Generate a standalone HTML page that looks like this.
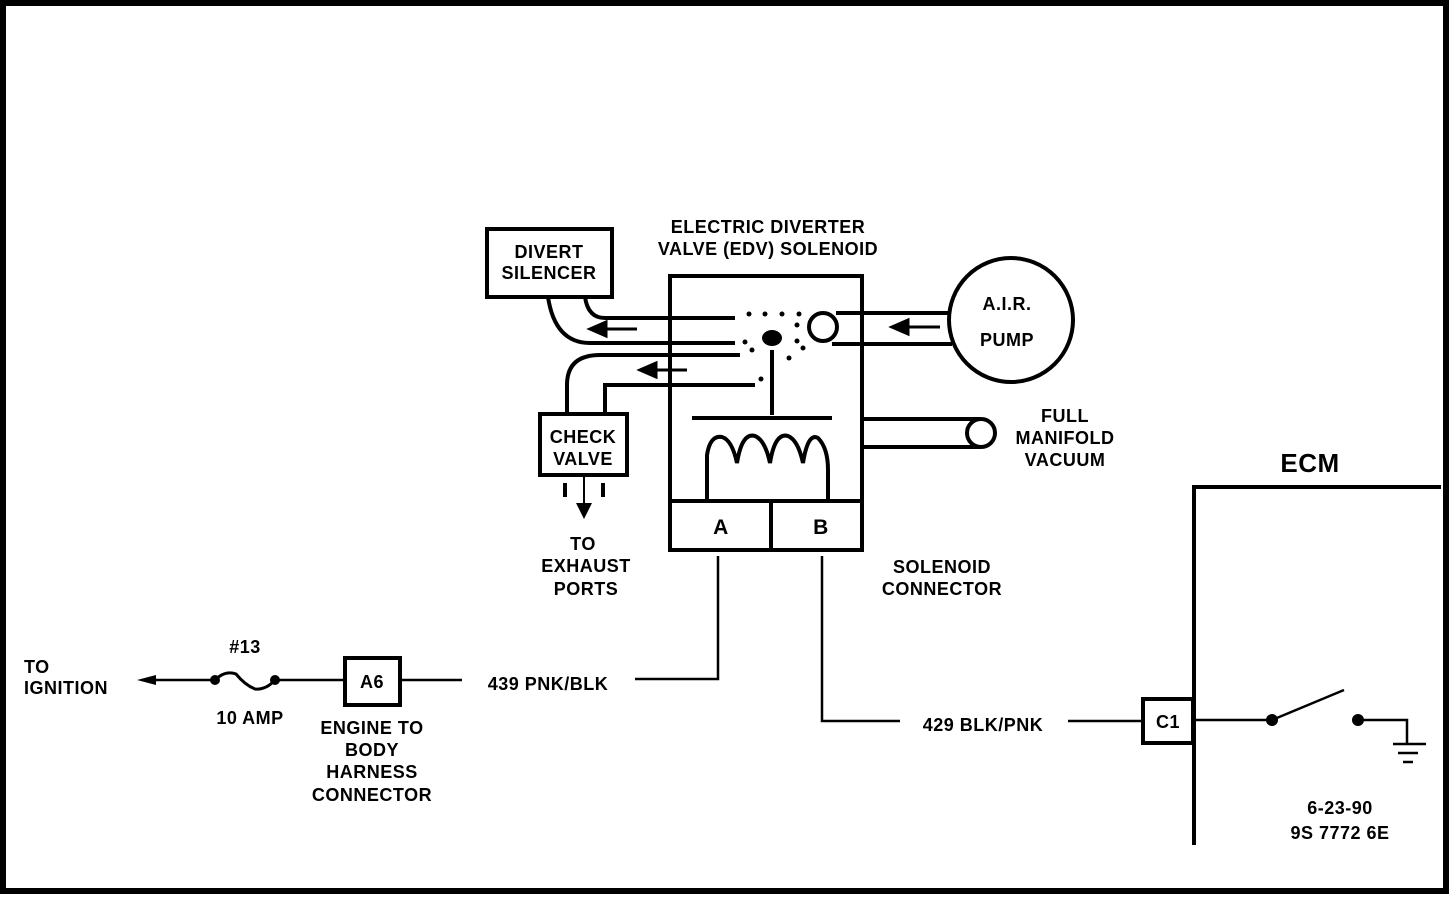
<!DOCTYPE html>
<html><head><meta charset="utf-8"><style>
html,body{margin:0;padding:0;background:#fff;}
svg{display:block;}
text{font-family:"Liberation Sans",sans-serif;font-weight:bold;font-size:18px;fill:#000;text-anchor:middle;letter-spacing:0.5px;}
</style></head><body>
<svg width="1456" height="898" viewBox="0 0 1456 898" xmlns="http://www.w3.org/2000/svg">
<rect x="0" y="0" width="1456" height="898" fill="#fff"/>
<rect x="3" y="3" width="1443" height="888" fill="none" stroke="#000" stroke-width="6"/>
<g fill="none" stroke="#000" stroke-width="4">
<rect x="487" y="229" width="125" height="68"/>
<rect x="540" y="414" width="87" height="61"/>
<rect x="670" y="276" width="192" height="274"/>
<line x1="670" y1="501" x2="862" y2="501"/>
<line x1="771" y1="501" x2="771" y2="550"/>
<path d="M585 297 Q588 318 605 318 L735 318"/>
<path d="M548 297 Q555 343 590 343 L735 343"/>
<path d="M567 414 L567 385 Q567 355 600 355 L740 355"/>
<path d="M605 414 L605 385 L755 385"/>
<circle cx="1011" cy="320" r="62"/>
<line x1="836" y1="313" x2="950" y2="313"/>
<line x1="832" y1="344" x2="952" y2="344"/>
<circle cx="823" cy="327" r="14"/>
<line x1="862" y1="419" x2="980" y2="419"/>
<line x1="862" y1="447" x2="980" y2="447"/>
<circle cx="981" cy="433" r="14"/>
<line x1="772" y1="350" x2="772" y2="415"/>
<line x1="692" y1="418" x2="832" y2="418"/>
<path d="M707 501 L707 455 Q710 435 722 437 Q732 440 737 463 Q742 432 755 436 Q765 440 770 463 Q775 432 788 436 Q798 440 803 463 Q808 432 818 438 Q828 448 828 470 L828 501"/>
<path d="M1194 845 L1194 487 L1441 487"/>
<rect x="1143" y="699" width="50" height="44"/>
<rect x="345" y="658" width="55" height="47"/>
</g>
<g stroke="#000" stroke-width="3" fill="#000">
<line x1="600" y1="329" x2="637" y2="329"/><polygon points="590,329 606,322 606,336"/>
<line x1="650" y1="370" x2="687" y2="370"/><polygon points="640,370 656,363 656,377"/>
<line x1="905" y1="327" x2="940" y2="327"/><polygon points="892,327 908,320 908,334"/>
</g>
<g fill="#000">
<circle cx="749" cy="314" r="2.5"/><circle cx="765" cy="314" r="2.5"/><circle cx="782" cy="314" r="2.5"/><circle cx="799" cy="314" r="2.5"/>
<circle cx="797" cy="325" r="2.5"/><circle cx="745" cy="342" r="2.5"/><circle cx="752" cy="350" r="2.5"/>
<circle cx="797" cy="341" r="2.5"/><circle cx="803" cy="348" r="2.5"/><circle cx="789" cy="358" r="2.5"/><circle cx="761" cy="379" r="2.5"/>
<ellipse cx="772" cy="338" rx="10" ry="8"/>
</g>
<g stroke="#000" stroke-width="4"><line x1="565" y1="483" x2="565" y2="497"/><line x1="603" y1="483" x2="603" y2="497"/></g>
<line x1="584" y1="475" x2="584" y2="505" stroke="#000" stroke-width="2"/>
<polygon points="576,503 592,503 584,519" fill="#000"/>
<g fill="none" stroke="#000" stroke-width="2.5">
<path d="M718 556 L718 679 L635 679"/>
<path d="M822 556 L822 721 L900 721"/>
<line x1="1068" y1="721" x2="1143" y2="721"/>
<line x1="400" y1="680" x2="462" y2="680"/>
<line x1="275" y1="680" x2="345" y2="680"/>
<line x1="148" y1="680" x2="215" y2="680"/>
<path d="M215 680 Q225 670 236 674 Q245 685 255 689 Q266 690 275 680" stroke-width="3"/>
<line x1="1193" y1="720" x2="1272" y2="720"/>
<line x1="1272" y1="720" x2="1344" y2="690"/>
<path d="M1358 720 L1407 720 L1407 744"/>
<line x1="1393" y1="744" x2="1426" y2="744"/>
<line x1="1398" y1="753" x2="1418" y2="753"/>
<line x1="1403" y1="762" x2="1413" y2="762"/>
</g>
<polygon points="137,680 156,675 156,685" fill="#000"/>
<g fill="#000"><circle cx="215" cy="680" r="5"/><circle cx="275" cy="680" r="5"/><circle cx="1272" cy="720" r="6"/><circle cx="1358" cy="720" r="6"/></g>
<text x="768" y="233">ELECTRIC DIVERTER</text>
<text x="768" y="255">VALVE (EDV) SOLENOID</text>
<text x="549" y="258">DIVERT</text>
<text x="549" y="279">SILENCER</text>
<text x="583" y="443">CHECK</text>
<text x="583" y="465">VALVE</text>
<text x="583" y="550">TO</text>
<text x="586" y="572">EXHAUST</text>
<text x="586" y="595">PORTS</text>
<text x="1007" y="310">A.I.R.</text>
<text x="1007" y="346">PUMP</text>
<text x="1065" y="422">FULL</text>
<text x="1065" y="444">MANIFOLD</text>
<text x="1065" y="466">VACUUM</text>
<text x="721" y="534" style="font-size:21px">A</text>
<text x="821" y="534" style="font-size:21px">B</text>
<text x="942" y="573">SOLENOID</text>
<text x="942" y="595">CONNECTOR</text>
<text x="1310" y="472" style="font-size:26px">ECM</text>
<text x="1168" y="728">C1</text>
<text x="372" y="688">A6</text>
<text x="548" y="690">439 PNK/BLK</text>
<text x="983" y="731">429 BLK/PNK</text>
<text x="245" y="653">#13</text>
<text x="250" y="724">10 AMP</text>
<text x="372" y="734">ENGINE TO</text>
<text x="372" y="756">BODY</text>
<text x="372" y="778">HARNESS</text>
<text x="372" y="801">CONNECTOR</text>
<text x="24" y="673" style="text-anchor:start">TO</text>
<text x="24" y="694" style="text-anchor:start">IGNITION</text>
<text x="1340" y="814">6-23-90</text>
<text x="1340" y="839">9S 7772 6E</text>
</svg>
</body></html>
